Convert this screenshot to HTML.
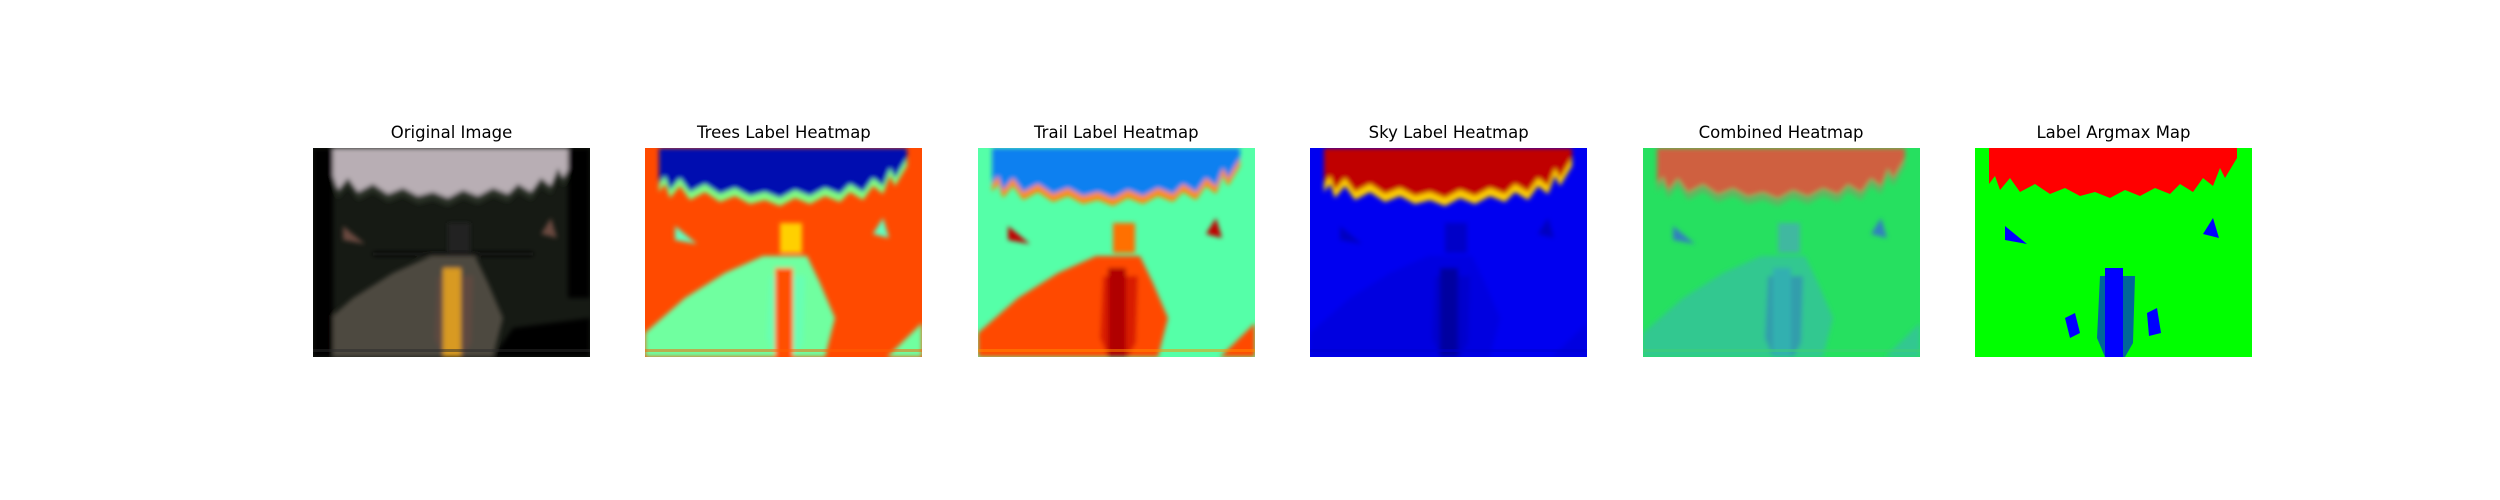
<!DOCTYPE html>
<html><head><meta charset="utf-8"><style>
html,body{margin:0;padding:0;background:#fff;}
#fig{position:relative;width:2500px;height:500px;background:#fff;overflow:hidden;font-family:"Liberation Sans","DejaVu Sans",sans-serif;}
.title{position:absolute;font-size:16.5px;color:#000;text-align:center;width:400px;top:123px;font-family:"DejaVu Sans","Liberation Sans",sans-serif;}
svg.panel{position:absolute;top:148px;width:277px;height:209px;}
</style></head><body>
<div id="fig"></div>
<script>
const titles = ["Original Image","Trees Label Heatmap","Trail Label Heatmap","Sky Label Heatmap","Combined Heatmap","Label Argmax Map"];
const panelKeys = ["orig","trees","trail","sky","comb","argmax"];
const schemes = {
  orig:{bg:"#161a14",sky:"#b8aeb4",skyEdge:"#2a3328",trail:"#4e4840",fork:"#d89a20",arm:"#6a4a40",stem:"#202020",edge:"#050505",bar:"#2a2a2a"},
  trees:{bg:"#ff4a00",sky:"#0010b0",skyEdge:"#80ff80",trail:"#70ffa0",fork:"#ff5000",arm:"#60ffc0",stem:"#ffd000",edge:"#ff4000",bar:"#ff6000"},
  trail:{bg:"#55ffa8",sky:"#1080f0",skyEdge:"#ff8a10",trail:"#ff4a00",fork:"#b00000",arm:"#c00000",stem:"#ff7000",edge:"#55ffa8",bar:"#ff9000"},
  sky:{bg:"#0000f0",sky:"#c00000",skyEdge:"#ffd000",trail:"#0000e0",fork:"#0000a0",arm:"#0000c0",stem:"#0000c8",edge:"#0000f0",bar:"#0000d0"},
  comb:{bg:"#26e060",sky:"#cf6040",skyEdge:"#60b860",trail:"#30c890",fork:"#30b0b0",arm:"#3080c0",stem:"#40b8a0",edge:"#26e060",bar:"#40d070"},
  argmax:{bg:"#00ff00",sky:"#ff0000",skyEdge:"#00ff00",trail:"#00ff00",fork:"#0000ff",arm:"#0000ff",stem:"#00ff00",edge:"#00ff00",bar:"#00ff00"}
};
const fig=document.getElementById('fig');
const NS="http://www.w3.org/2000/svg";
const skyEdgePts="0,0 277,0 262,0 262,10 250,30 245,20 238,38 228,30 218,44 205,36 195,46 180,40 165,48 150,42 135,50 120,44 105,48 90,40 75,46 60,36 45,44 35,30 25,42 20,28 14,36 14,0";
function panel(i){
  const k=panelKeys[i], c=schemes[k];
  const x=313+i*332.4;
  const t=document.createElement('div');
  t.className='title';
  
  
  t.style.left=(x+138.5-200)+'px';
  t.textContent=titles[i];
  fig.appendChild(t);
  const s=document.createElementNS(NS,'svg');
  s.setAttribute('class','panel');
  
  
  s.setAttribute('viewBox','0 0 277 209');
  s.setAttribute('preserveAspectRatio','none');
  s.style.left=x+'px';
  const blur = k==='argmax'?'':'<filter id="b'+i+'"><feGaussianBlur stdDeviation="2.5"/></filter>';
  const f = k==='argmax'?'':' filter="url(#b'+i+')"';
  let h='<defs>'+blur+'</defs>';
  h+='<rect width="277" height="209" fill="'+c.bg+'"/>';
  h+='<g'+f+'>';
  h+='<polygon points="'+skyEdgePts+'" fill="'+c.skyEdge+'" transform="translate(0,8)"/>';
  h+='<polygon points="'+skyEdgePts+'" fill="'+c.sky+'"/>';
  h+='<polygon points="0,185 40,150 80,125 118,108 162,108 175,135 190,170 180,209 0,209" fill="'+c.trail+'"/>';
  h+='<polygon points="242,209 277,175 277,209" fill="'+c.trail+'"/>';
  h+='<polygon points="125,128 160,128 158,195 150,209 130,209 122,190" fill="'+c.arm+'" opacity="0.6"/>';
  h+='<rect x="130" y="120" width="18" height="89" fill="'+c.fork+'"/>';
  h+='<rect x="135" y="75" width="22" height="30" fill="'+c.stem+'"/>';
  h+='<polygon points="30,78 52,96 30,92" fill="'+c.arm+'"/>';
  h+='<polygon points="238,70 244,90 228,86" fill="'+c.arm+'"/>';
  if(k==='orig'){
    h+='<rect x="0" y="0" width="20" height="209" fill="'+c.edge+'"/>';
    h+='<rect x="255" y="0" width="22" height="150" fill="'+c.edge+'"/>';
    h+='<polygon points="180,209 200,180 277,170 277,209" fill="'+c.edge+'"/>';
    h+='<rect x="60" y="104" width="160" height="4" fill="#111"/>';
  }
  if(k==='argmax'){
    h+='<polygon points="90,170 100,165 105,185 95,190" fill="#0000ff"/>';
    h+='<polygon points="172,165 182,160 186,185 174,188" fill="#0000ff"/>';
  }
  h+='</g>';
  if(k!=='argmax') h+='<rect x="0" y="201" width="277" height="3" fill="'+c.bar+'" opacity="0.5"/>';
  s.innerHTML=h;
  fig.appendChild(s);
}
for(let i=0;i<titles.length;i++) panel(i);
</script>
</body></html>
